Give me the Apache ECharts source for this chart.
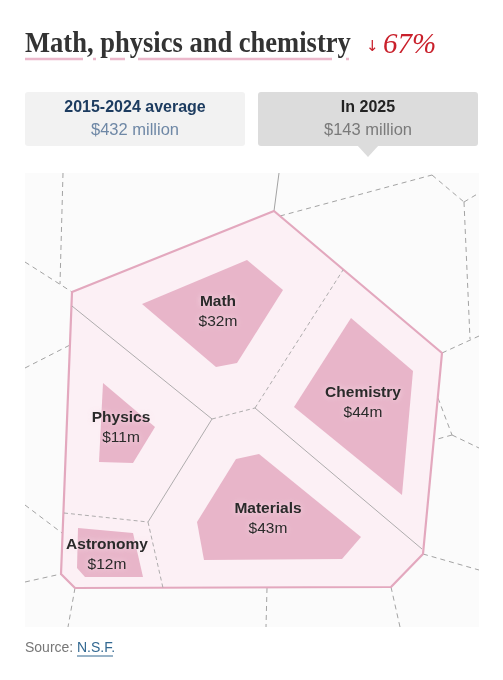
<!DOCTYPE html>
<html><head><meta charset="utf-8">
<script src="https://cdn.jsdelivr.net/npm/echarts@6/dist/echarts.min.js"></script>
<style>html,body{margin:0;padding:0;background:#fff;}#chart{width:503px;height:680px;}</style>
</head><body><div id="chart"></div>
<script>
// ---- data ----
const categories = ['Math', 'Physics', 'Chemistry', 'Materials', 'Astronomy'];
const values2025 = [32, 11, 44, 43, 12];          // $ million in 2025
const avgLabel = '2015-2024 average';
const avgTotal = 432;                              // $ million
const currentLabel = 'In 2025';
const currentTotal = 143;                          // $ million
const changePct = 67;                              // % decline
const titleText = 'Math, physics and chemistry';
const sourceLabel = 'Source: ';
const sourceLink = 'N.S.F.';

// ---- layout geometry of the Voronoi cells (abstract 0..454 layout space) ----
const outerShape = [[47,119],[249,38],[417,180],[398,381],[366,414],[50,415],[36,401]];
const innerShapes = [
  [[117,131],[222,87],[258,117],[212,190],[191,194]],          // Math
  [[78,210],[130,254],[108,290],[74,289]],                     // Physics
  [[326,145],[388,198],[377,322],[269,234]],                   // Chemistry
  [[211,286],[234,281],[336,364],[317,386],[179,387],[172,349]], // Materials
  [[53,355],[108,360],[118,404],[60,404],[52,395]]             // Astronomy
];
const labelAnchors = [[193,139],[96,255],[338,230],[243,346],[82,382]];
const dividers = [ // x1,y1,x2,y2,dashed
  [47,133,187,246,0],
  [187,246,230,235,1],
  [230,235,318,97,1],
  [230,235,397,376,0],
  [187,246,123,349,0],
  [39,340,123,349,1],
  [123,349,138,415,1]
];
const backdrop = [ // x1,y1,x2,y2,dashed
  [38,0,35,111,1],[0,89,47,119,1],
  [249,38,254,0,0],
  [255,43,407,2,1],[407,2,439,29,1],[439,29,454,20,1],[439,29,445,166,1],[417,180,454,163,1],
  [0,195,45,172,1],
  [413,225,427,262,1],[427,262,409,267,1],[427,262,454,275,1],
  [398,381,454,397,1],[366,414,375,454,1],[242,415,241,454,1],[50,415,43,454,1],
  [0,332,37,360,1],[0,409,36,401,1]
];

const chart = echarts.init(document.getElementById('chart'), null, {renderer: 'canvas'});

function lineRender(list, color, width, dash) {
  return function (params, api) {
    const s = list[params.dataIndex];
    const p1 = api.coord([s[0], s[1]]);
    const p2 = api.coord([s[2], s[3]]);
    return {
      type: 'line',
      shape: {x1: p1[0], y1: p1[1], x2: p2[0], y2: p2[1]},
      style: {stroke: color, lineWidth: width, lineDash: s[4] ? dash : null}
    };
  };
}

const SANS = '"Liberation Sans", Arial, sans-serif';
const SERIF = '"Liberation Serif", "Times New Roman", serif';

const option = {
  animation: false,
  grid: {left: 25, top: 173, width: 454, height: 454, show: true, backgroundColor: '#fbfbfb', borderWidth: 0},
  xAxis: {type: 'value', min: 0, max: 454, show: false},
  yAxis: {type: 'value', min: 0, max: 454, inverse: true, show: false},
  series: [
    {
      type: 'custom', name: 'backdrop', silent: true,
      data: backdrop.map(s => s.slice(0, 4)),
      encode: {x: [0, 2], y: [1, 3]},
      renderItem: lineRender(backdrop, '#a3a3a3', 1, [5, 4])
    },
    {
      type: 'custom', name: 'total', silent: true,
      data: [[currentTotal, currentTotal]],
      renderItem: function (params, api) {
        return {
          type: 'polygon',
          shape: {points: outerShape.map(p => api.coord(p))},
          style: {fill: '#fcf0f5', stroke: '#e3a8be', lineWidth: 2.2, lineJoin: 'round'}
        };
      }
    },
    {
      type: 'custom', name: 'dividers', silent: true,
      data: dividers.map(s => s.slice(0, 4)),
      encode: {x: [0, 2], y: [1, 3]},
      renderItem: lineRender(dividers, '#9a9a9a', 0.8, [4, 3])
    },
    {
      type: 'custom', name: 'fields', silent: true,
      data: values2025.map((v, i) => ({name: categories[i], value: [i, v]})),
      renderItem: function (params, api) {
        const i = api.value(0);
        const v = api.value(1);
        const pts = innerShapes[i].map(p => api.coord(p));
        const a = api.coord(labelAnchors[i]);
        const txt = {fill: '#2a2a2a', align: 'center', verticalAlign: 'middle',
          textShadowColor: 'rgba(252,230,238,0.9)', textShadowBlur: 6};
        return {
          type: 'group',
          children: [
            {type: 'polygon', shape: {points: pts}, style: {fill: '#e8b5c9'}},
            {type: 'text', x: a[0], y: a[1] - 10, style: Object.assign({text: categories[i], font: 'bold 15.5px ' + SANS}, txt)},
            {type: 'text', x: a[0], y: a[1] + 10, style: Object.assign({text: '$' + v + 'm', font: '15.5px ' + SANS}, txt)}
          ]
        };
      }
    }
  ],
  graphic: [
    {type: 'text', x: 25, y: 45, scaleX: 0.915,
      style: {text: titleText, font: 'bold 29px ' + SERIF, fill: '#333', verticalAlign: 'middle'}},
    {type: 'text', x: 366, y: 47,
      style: {text: '\u2193', font: '15px "DejaVu Sans", sans-serif', fill: '#c9202b', verticalAlign: 'middle'}},
    {type: 'text', x: 383, y: 45,
      style: {text: changePct + '%', font: 'italic 29px ' + SERIF, fill: '#c9202b', verticalAlign: 'middle'}},
    // title underline segments
    {type: 'line', shape: {x1: 25, y1: 59, x2: 83, y2: 59}, style: {stroke: '#ebb8cb', lineWidth: 2.5}},
    {type: 'line', shape: {x1: 93, y1: 59, x2: 96, y2: 59}, style: {stroke: '#ebb8cb', lineWidth: 2.5}},
    {type: 'line', shape: {x1: 110, y1: 59, x2: 125, y2: 59}, style: {stroke: '#ebb8cb', lineWidth: 2.5}},
    {type: 'line', shape: {x1: 138, y1: 59, x2: 332, y2: 59}, style: {stroke: '#ebb8cb', lineWidth: 2.5}},
    {type: 'line', shape: {x1: 346, y1: 59, x2: 349, y2: 59}, style: {stroke: '#ebb8cb', lineWidth: 2.5}},
    // comparison boxes
    {type: 'rect', shape: {x: 25, y: 92, width: 220, height: 54, r: 3}, style: {fill: '#f2f2f2'}},
    {type: 'rect', shape: {x: 258, y: 92, width: 220, height: 54, r: 3}, style: {fill: '#dcdcdc'}},
    {type: 'polygon', shape: {points: [[357, 145], [379, 145], [368, 157]]}, style: {fill: '#dcdcdc'}},
    {type: 'text', x: 135, y: 108,
      style: {text: avgLabel, font: 'bold 16px ' + SANS, fill: '#1d3c60', align: 'center', verticalAlign: 'middle'}},
    {type: 'text', x: 135, y: 130,
      style: {text: '$' + avgTotal + ' million', font: '16.5px ' + SANS, fill: '#6f88a6', align: 'center', verticalAlign: 'middle'}},
    {type: 'text', x: 368, y: 108,
      style: {text: currentLabel, font: 'bold 16px ' + SANS, fill: '#222', align: 'center', verticalAlign: 'middle'}},
    {type: 'text', x: 368, y: 130,
      style: {text: '$' + currentTotal + ' million', font: '16.5px ' + SANS, fill: '#7a7a7a', align: 'center', verticalAlign: 'middle'}},
    // source
    {type: 'text', x: 25, y: 648,
      style: {text: sourceLabel, font: '14px ' + SANS, fill: '#777', verticalAlign: 'middle'}},
    {type: 'text', x: 77, y: 648,
      style: {text: sourceLink, font: '14px ' + SANS, fill: '#326891', verticalAlign: 'middle'}},
    {type: 'line', shape: {x1: 77, y1: 656, x2: 113, y2: 656}, style: {stroke: '#326891', lineWidth: 1}}
  ]
};
chart.setOption(option);
</script>
</body></html>
